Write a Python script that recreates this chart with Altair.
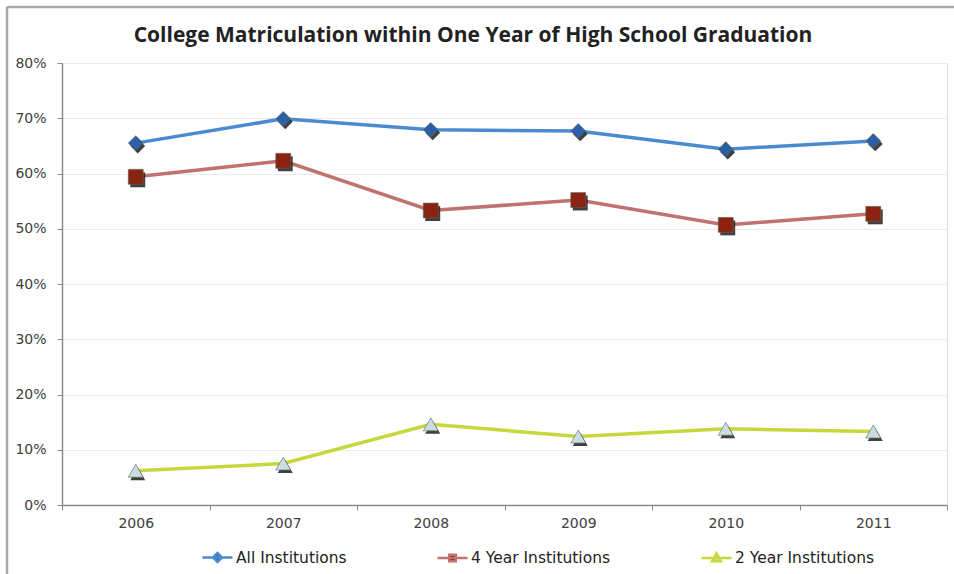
import altair as alt
import pandas as pd

# Share of high-school graduates enrolling in college within one year
years = ["2006", "2007", "2008", "2009", "2010", "2011"]
series_names = ["All Institutions", "4 Year Institutions", "2 Year Institutions"]
all_inst = [65.5, 69.9, 67.9, 67.7, 64.4, 65.9]
four_year = [59.4, 62.3, 53.3, 55.2, 50.7, 52.7]
two_year = [6.2, 7.5, 14.6, 12.4, 13.8, 13.3]
chart_title = "College Matriculation within One Year of High School Graduation"

line_colors = ["#4a8bd0", "#c07270", "#c5d83c"]
marker_fills = ["#2d5ea8", "#8c2211", "#c9dde2"]
marker_shapes = ["diamond", "square", "triangle-up"]
marker_sizes = [220, 225, 190]

rows = []
for name, vals in zip(series_names, [all_inst, four_year, two_year]):
    for yr, v in zip(years, vals):
        rows.append({"year": yr, "series": name, "value": v / 100})
df = pd.DataFrame(rows)

x_enc = alt.X(
    "year:N",
    bandPosition=0.5,
    scale=alt.Scale(type="band", paddingInner=0, paddingOuter=0),
    axis=alt.Axis(
        title=None, labelAngle=0, tickBand="extent", grid=False,
        tickSize=5, labelPadding=6, labelFont="DejaVu Sans",
        labelFontSize=14, labelColor="#404040", domainColor="#8a8a8a",
        tickColor="#8a8a8a", domainWidth=1.5,
    ),
)
y_enc = alt.Y(
    "value:Q",
    scale=alt.Scale(domain=[0, 0.8], nice=False),
    axis=alt.Axis(
        title=None, format=".0%", values=[i / 10 for i in range(9)],
        tickSize=5, labelPadding=11, labelFont="DejaVu Sans",
        labelFontSize=14, labelColor="#404040", domainColor="#8a8a8a",
        tickColor="#8a8a8a", domainWidth=1.5, gridColor="#ececec",
    ),
)

# Legend symbols: a short line with the series marker in the middle
sym_path = (
    "datum.value == 'All Institutions' ? 'M-1,0L1,0M0,-0.3L0.3,0L0,0.3L-0.3,0Z' : "
    "datum.value == '4 Year Institutions' ? 'M-1,0L1,0M-0.22,-0.22L0.22,-0.22L0.22,0.22L-0.22,0.22Z' : "
    "'M-1,0L1,0M0,-0.32L0.3,0.22L-0.3,0.22Z'"
)
sym_fill = (
    "datum.value == 'All Institutions' ? '#2d5ea8' : "
    "datum.value == '4 Year Institutions' ? '#8c2211' : '#c9dde2'"
)

lines = alt.Chart(df).mark_line(strokeWidth=3.5).encode(
    x=x_enc,
    y=y_enc,
    color=alt.Color(
        "series:N",
        scale=alt.Scale(domain=series_names, range=line_colors),
        legend=alt.Legend(
            title=None, orient="none", direction="horizontal",
            legendX=139, legendY=478, symbolSize=900, symbolStrokeWidth=2.5,
            labelFont="DejaVu Sans", labelFontSize=15.5, labelColor="#222",
            labelOffset=2, columnPadding=85,
            symbolType=alt.ExprRef(expr=sym_path),
            symbolFillColor=alt.ExprRef(expr=sym_fill),
        ),
    ),
)

shape_enc = alt.Shape("series:N", scale=alt.Scale(domain=series_names, range=marker_shapes), legend=None)
size_enc = alt.Size("series:N", scale=alt.Scale(domain=series_names, range=marker_sizes), legend=None)

# dark drop shadow under each marker
shadows = alt.Chart(df).mark_point(filled=True, opacity=0.85, xOffset=2, yOffset=3).encode(
    x=x_enc,
    y=y_enc,
    shape=shape_enc,
    size=size_enc,
    color=alt.value("#1e1e1e"),
)

points = alt.Chart(df).mark_point(filled=True, opacity=1, strokeWidth=0.6).encode(
    x=x_enc,
    y=y_enc,
    shape=shape_enc,
    size=size_enc,
    fill=alt.Fill("series:N", scale=alt.Scale(domain=series_names, range=marker_fills), legend=None),
    stroke=alt.value("#5a6a55"),
)

title_src = pd.DataFrame({"label": [chart_title]})
title = alt.Chart(title_src).mark_text(
    font="Open Sans", fontSize=21, fontWeight="bold", color="#222222",
    align="center", baseline="alphabetic",
).encode(text="label:N", x=alt.value(411), y=alt.value(-21))

frame_src = pd.DataFrame({"k": [0]})
frame_top = alt.Chart(frame_src).mark_rule(color="#a8a8a8", strokeWidth=2.5).encode(
    x=alt.value(-55), x2=alt.value(892), y=alt.value(-56)
)
frame_left = alt.Chart(frame_src).mark_rule(color="#a8a8a8", strokeWidth=2.5).encode(
    x=alt.value(-55), y=alt.value(-56), y2=alt.value(511)
)

chart = alt.layer(frame_top, frame_left, title, lines, shadows, points).resolve_scale(
    color="independent"
).properties(
    width=885,
    height=442,
    autosize=alt.AutoSizeParams(type="none"),
    padding={"left": 62, "top": 63, "right": 7, "bottom": 69},
).configure_view(
    stroke="#a0a0a0", strokeWidth=1.5
).configure(background="white")

chart.save("out.html", embed_options={"renderer": "svg", "actions": False})
